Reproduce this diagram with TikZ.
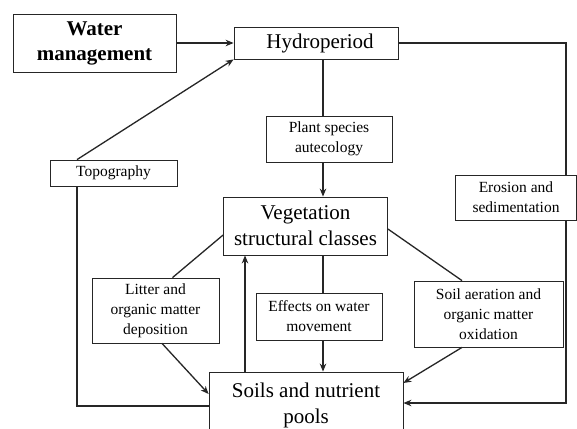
\documentclass[tikz,border=0pt]{standalone}
\usepackage{fontspec}
\setmainfont{Liberation Serif}
\usetikzlibrary{arrows.meta,calc}
\begin{document}
\begin{tikzpicture}[x=1pt,y=-1pt,
  box/.style={draw=black!85,line width=0.8pt,fill=white,inner sep=0pt,align=center},
  small/.style={box,font=\fontsize{15.5}{20}\selectfont},
  big/.style={box,font=\fontsize{21}{26}\selectfont},
  link/.style={draw=black!85,line width=1.3pt},
  arr/.style={link,-{Stealth[length=8pt,width=6.5pt]}}]
\useasboundingbox[fill=white] (0,0) rectangle (577,428);

% boxes
\node[box,font=\fontsize{21}{25}\selectfont\bfseries,minimum width=163pt,minimum height=58pt]
  (water) at (94.5,43.5) {Water\\management};
\node[big,minimum width=164pt,minimum height=32pt] (hydro) at (316,43) {\hspace{8pt}Hydroperiod};
\node[small,minimum width=127pt,minimum height=26pt] (topo) at (113.5,173) {Topography};
\node[small,minimum width=126pt,minimum height=46pt] (plant) at (329,139) {Plant species\\autecology};
\node[big,minimum width=164pt,minimum height=58pt] (veg) at (305.5,226) {Vegetation\\structural classes};
\node[small,minimum width=121pt,minimum height=45pt] (erosion) at (516,197.5) {Erosion and\\sedimentation};
\node[small,minimum width=127pt,minimum height=65pt] (litter) at (155.5,310.5) {Litter and\\organic matter\\deposition};
\node[small,minimum width=126pt,minimum height=47pt] (effects) at (319,316.5) {Effects on water\\movement};
\node[small,minimum width=149pt,minimum height=66pt] (aeration) at (488.5,314) {Soil aeration and\\organic matter\\oxidation};
\node[big,minimum width=194pt,minimum height=66pt] (soils) at (306,405) {Soils and nutrient\\pools};

% reference columns for the vertical connectors
\coordinate (vx) at (323,0);
\coordinate (ux) at (245,0);
\coordinate (rx) at (566,0);
\coordinate (tx) at (77,0);

% upper part
\draw[arr] (water.east |- hydro.west) -- (hydro.west);
\draw[arr] (topo.north -| tx) -- (hydro.south west);
\draw[link] (hydro.south -| vx) -- (plant.north -| vx);
\draw[arr] (plant.south -| vx) -- (veg.north -| vx);
\draw[link] (hydro.east) -- (hydro.east -| rx) -- (erosion.north -| rx);

% lower part
\draw[link] (veg.south -| vx) -- (effects.north -| vx);
\draw[arr] (effects.south -| vx) -- (soils.north -| vx);
\draw[arr] (soils.north -| ux) -- (veg.south -| ux);
\draw[link] ($(veg.west)+(0,9)$) -- ($(litter.north)+(17,0)$);
\draw[arr] ($(litter.south)+(6.5,0)$) -- ($(soils.west)+(0,-11)$);
\draw[link] ($(veg.east)+(0,3)$) -- ($(aeration.north)+(-26.5,0)$);
\draw[arr] ($(aeration.south)+(-26.5,0)$) -- ($(soils.east)+(0,-22)$);
\draw[link] (topo.south -| tx) -- ($(soils.west -| tx)+(0,1)$) -- ($(soils.west)+(0,1)$);
\draw[arr] (erosion.south -| rx) -- ($(soils.east -| rx)+(0,-2)$) -- ($(soils.east)+(0,-2)$);
\end{tikzpicture}
\end{document}
